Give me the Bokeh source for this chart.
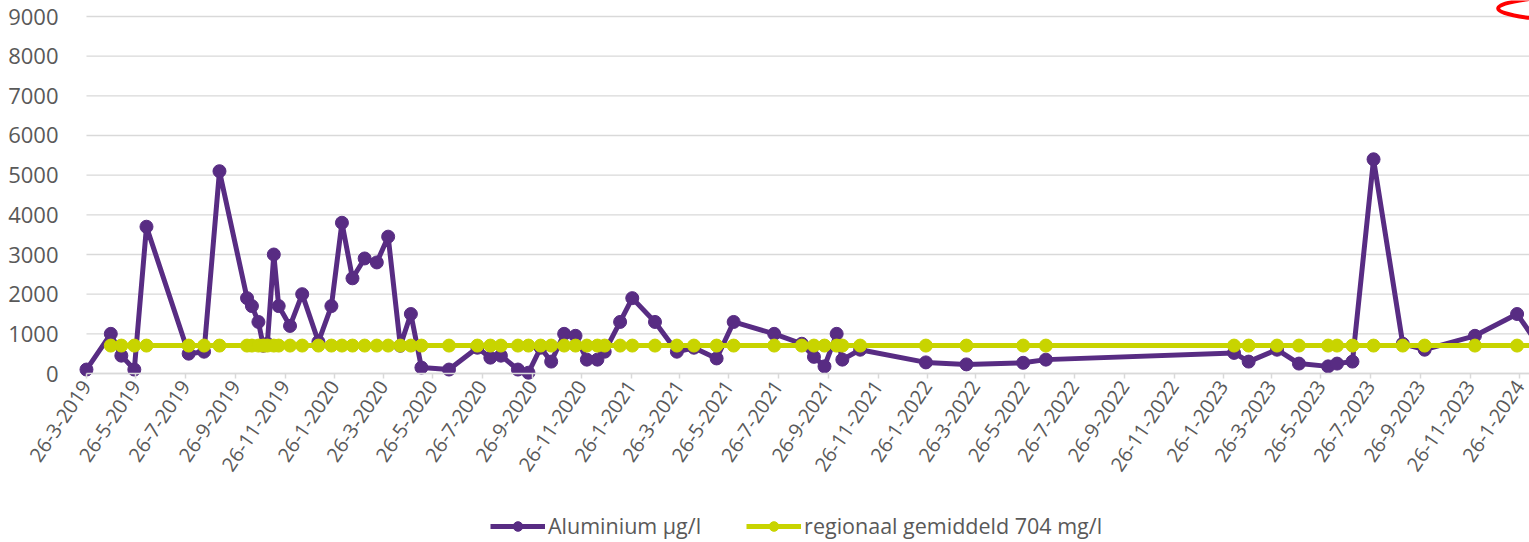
import math
import pandas as pd
from bokeh.plotting import figure
from bokeh.models import (ColumnDataSource, Range1d, FixedTicker, Legend, LegendItem)
from bokeh.embed import file_html
from bokeh.resources import INLINE

# ---------------- data ----------------
dates = [
    "2019-03-26", "2019-04-25", "2019-05-08", "2019-05-24", "2019-06-08",
    "2019-07-30", "2019-08-18", "2019-09-06", "2019-10-10", "2019-10-16",
    "2019-10-24", "2019-10-30", "2019-11-04", "2019-11-12", "2019-11-18",
    "2019-12-02", "2019-12-17", "2020-01-06", "2020-01-22", "2020-02-04",
    "2020-02-17", "2020-03-03", "2020-03-18", "2020-04-01", "2020-04-16",
    "2020-04-29", "2020-05-12", "2020-06-15", "2020-07-20", "2020-08-05",
    "2020-08-18", "2020-09-08", "2020-09-21", "2020-10-06", "2020-10-19",
    "2020-11-04", "2020-11-18", "2020-12-02", "2020-12-15", "2020-12-24",
    "2021-01-12", "2021-01-27", "2021-02-24", "2021-03-23", "2021-04-13",
    "2021-05-11", "2021-06-01", "2021-07-21", "2021-08-24", "2021-09-08",
    "2021-09-21", "2021-10-06", "2021-10-13", "2021-11-04", "2022-01-24",
    "2022-03-15", "2022-05-24", "2022-06-21", "2023-02-08", "2023-02-26",
    "2023-04-02", "2023-04-29", "2023-06-04", "2023-06-15", "2023-07-04",
    "2023-07-30", "2023-09-04", "2023-10-01", "2023-12-02", "2024-01-23",
    "2024-02-19",
]
aluminium = [
    100, 1000, 450, 100, 3700,
    500, 550, 5100, 1900, 1700,
    1300, 700, 750, 3000, 1700,
    1200, 2000, 800, 1700, 3800,
    2400, 2900, 2800, 3450, 700,
    1500, 150, 100, 650, 400,
    450, 100, 20, 650, 300,
    1000, 950, 350, 350, 550,
    1300, 1900, 1300, 550, 650,
    380, 1300, 1000, 750, 420,
    180, 1000, 350, 600, 280,
    230, 270, 350, 520, 300,
    600, 250, 180, 250, 300,
    5400, 750, 600, 950, 1500,
    700,
]
regional_dates = dates[1:]
regional = [704] * len(regional_dates)

tick_dates = [
    "2019-03-26", "2019-05-26", "2019-07-26", "2019-09-26", "2019-11-26",
    "2020-01-26", "2020-03-26", "2020-05-26", "2020-07-26", "2020-09-26", "2020-11-26",
    "2021-01-26", "2021-03-26", "2021-05-26", "2021-07-26", "2021-09-26", "2021-11-26",
    "2022-01-26", "2022-03-26", "2022-05-26", "2022-07-26", "2022-09-26", "2022-11-26",
    "2023-01-26", "2023-03-26", "2023-05-26", "2023-07-26", "2023-09-26", "2023-11-26",
    "2024-01-26",
]
tick_labels = [
    "26-3-2019", "26-5-2019", "26-7-2019", "26-9-2019", "26-11-2019",
    "26-1-2020", "26-3-2020", "26-5-2020", "26-7-2020", "26-9-2020", "26-11-2020",
    "26-1-2021", "26-3-2021", "26-5-2021", "26-7-2021", "26-9-2021", "26-11-2021",
    "26-1-2022", "26-3-2022", "26-5-2022", "26-7-2022", "26-9-2022", "26-11-2022",
    "26-1-2023", "26-3-2023", "26-5-2023", "26-7-2023", "26-9-2023", "26-11-2023",
    "26-1-2024",
]
y_ticks = [0, 1000, 2000, 3000, 4000, 5000, 6000, 7000, 8000, 9000]

series_names = ["Aluminium µg/l", "regionaal gemiddeld 704 mg/l"]

# visible window of the (cropped) chart
view_start = "2018-12-10"
axis_start = "2019-03-26"
view_end = "2024-02-07 07:00"

# annotation (red highlight ellipse, partly outside the picture)
mark_x = "2024-05-02"
mark_y = 9202

# ---------------- styling ----------------
PURPLE = "#582C83"
LIME = "#C8D400"
GRID = "#D9D9D9"
TEXT = "#595959"
FONT = "Open Sans"

def ms(d):
    return pd.Timestamp(d).value / 1e6

src_al = ColumnDataSource(dict(x=pd.to_datetime(dates), y=aluminium))
src_rg = ColumnDataSource(dict(x=pd.to_datetime(regional_dates), y=regional))

# the frame fills the whole picture; both axes are pinned inside it
p = figure(width=1529, height=542, x_axis_type="datetime",
           output_backend="svg", toolbar_location=None,
           x_range=Range1d(pd.Timestamp(view_start), pd.Timestamp(view_end)),
           y_range=Range1d(-4260, 9403),
           min_border_left=0, min_border_right=0, min_border_top=0,
           min_border_bottom=0)
p.outline_line_color = None
p.background_fill_color = "white"
p.border_fill_color = "white"

# horizontal gridlines, starting where the date axis starts
p.xgrid.visible = False
p.ygrid.visible = False
grid_src = ColumnDataSource(dict(
    x0=[pd.Timestamp(axis_start)] * len(y_ticks),
    x1=[pd.Timestamp(view_end)] * len(y_ticks),
    y=y_ticks))
p.segment(x0="x0", y0="y", x1="x1", y1="y", source=grid_src,
          line_color=GRID, line_width=1.3)

# y axis
p.yaxis.fixed_location = ms(axis_start)
p.yaxis.ticker = FixedTicker(ticks=y_ticks)
p.yaxis.axis_line_color = None
p.yaxis.major_tick_line_color = None
p.yaxis.minor_tick_line_color = None
p.yaxis.major_label_text_color = TEXT
p.yaxis.major_label_text_font = FONT
p.yaxis.major_label_text_font_size = "22px"
p.yaxis.major_label_standoff = 22

# x axis
tick_ms = [ms(d) for d in tick_dates]
p.xaxis.fixed_location = 0
p.xaxis.bounds = (ms(axis_start), ms(view_end))
p.xaxis.ticker = FixedTicker(ticks=tick_ms)
p.xaxis.major_label_overrides = {t: lab for t, lab in zip(tick_ms, tick_labels)}
p.xaxis.axis_line_color = GRID
p.xaxis.axis_line_width = 1.5
p.xaxis.major_tick_line_color = GRID
p.xaxis.major_tick_line_width = 1.5
p.xaxis.major_tick_in = 0
p.xaxis.major_tick_out = 5
p.xaxis.minor_tick_line_color = None
p.xaxis.major_label_orientation = math.radians(56)
p.xaxis.major_label_text_color = TEXT
p.xaxis.major_label_text_font = FONT
p.xaxis.major_label_text_font_size = "20px"
p.xaxis.major_label_standoff = 4

# series
al_line = p.line("x", "y", source=src_al, line_color=PURPLE, line_width=5,
                 line_join="round")
al_pts = p.scatter("x", "y", source=src_al, size=13, fill_color=PURPLE,
                   line_color=PURPLE)
rg_line = p.line("x", "y", source=src_rg, line_color=LIME, line_width=5,
                 line_join="round")
rg_pts = p.scatter("x", "y", source=src_rg, size=13, fill_color=LIME,
                   line_color=LIME)

# annotation ellipse
p.ellipse(x=[pd.Timestamp(mark_x)], y=[mark_y], width=200, height=26,
          width_units="screen", height_units="screen",
          fill_alpha=0, line_color="#FF0000", line_width=4)

legend = Legend(items=[LegendItem(label=series_names[0], renderers=[al_line, al_pts]),
                       LegendItem(label=series_names[1], renderers=[rg_line, rg_pts])],
                location=(490, 2), orientation="horizontal",
                glyph_width=55, glyph_height=24, label_standoff=3, spacing=45,
                padding=0, margin=0,
                label_text_font=FONT, label_text_font_size="21.5px",
                label_text_color=TEXT,
                border_line_alpha=0, background_fill_alpha=0)
p.add_layout(legend)

open("out.html", "w").write(file_html(p, INLINE))
